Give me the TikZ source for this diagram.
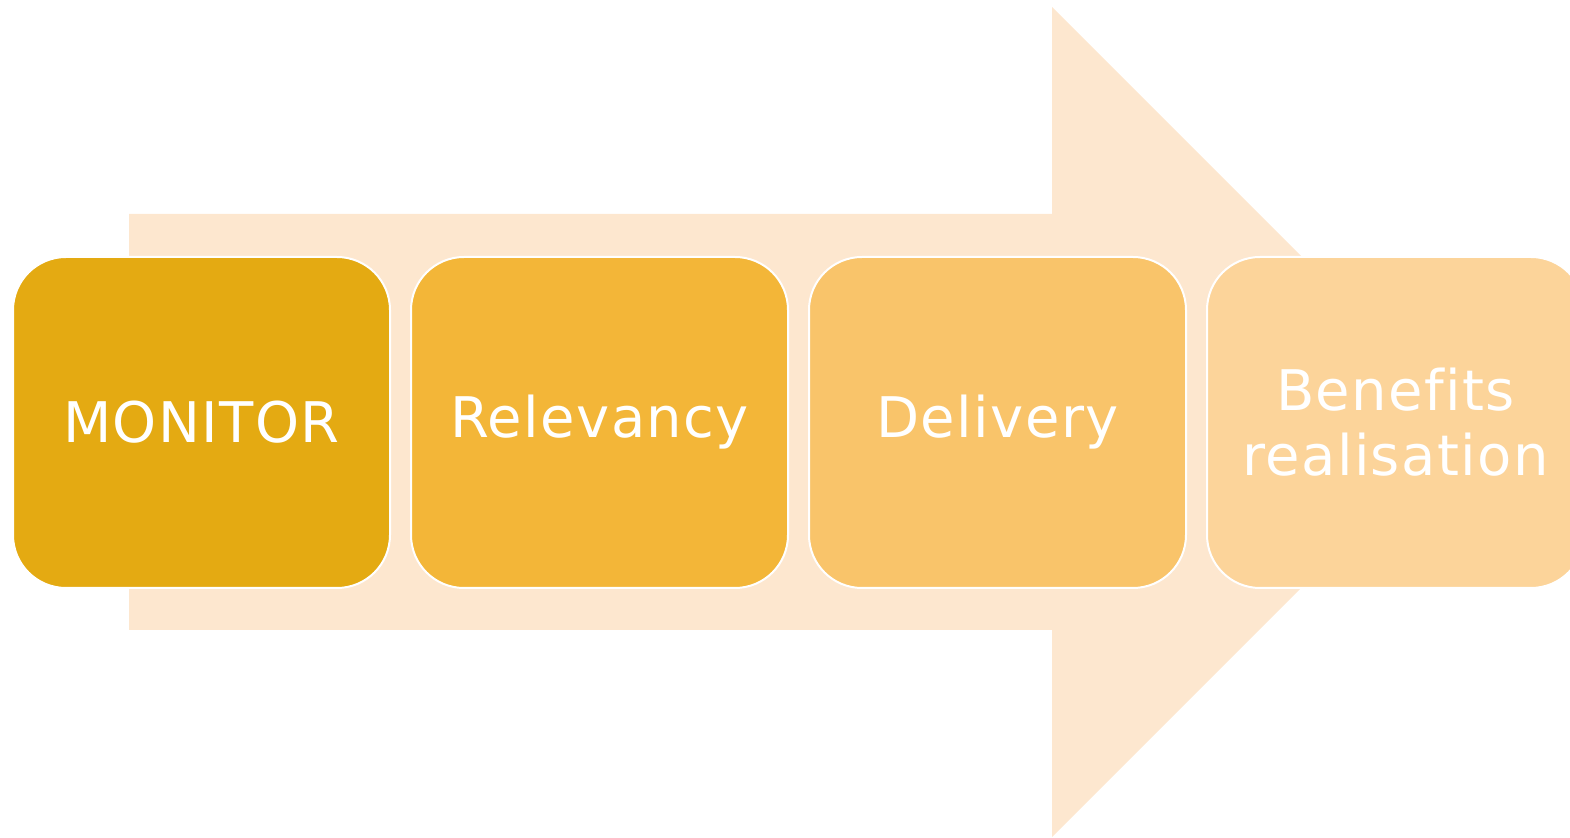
\documentclass[tikz,border=0pt]{standalone}
\usepackage{fontspec}
\setmainfont[Ligatures=NoCommon, LetterSpace=2.5]{DejaVu Sans}
\usetikzlibrary{positioning}
\definecolor{arrowfill}{HTML}{FDE7CF}
\definecolor{stepA}{HTML}{E4AA12}
\definecolor{stepB}{HTML}{F3B638}
\definecolor{stepC}{HTML}{F9C46A}
\definecolor{stepD}{HTML}{FCD49A}
\begin{document}
\begin{tikzpicture}
[x=0.5pt, y=-0.5pt,
 stagebox/.style={rectangle, rounded corners=26.5pt, minimum width=188.5pt, minimum height=165.5pt,
   inner sep=0pt, line width=1pt, draw=white, text=white, font=\fontsize{28}{32.5}\selectfont, align=center}]
\useasboundingbox (0,0) rectangle (1570,838);
% big arrow behind
\fill [arrowfill] (129,214) -- (1052,214) -- (1052,7) -- (1467,422) -- (1052,837) -- (1052,630) -- (129,630) -- cycle;
% stages
\node (monitor) [stagebox, fill=stepA, anchor=west] at (12,422.5) {MONITOR};
\node (relevancy) [stagebox, fill=stepB, right=9.5pt of monitor] {Relevancy};
\node (delivery) [stagebox, fill=stepC, right=9.5pt of relevancy] {Delivery};
\node (benefits) [stagebox, fill=stepD, right=9.5pt of delivery] {Benefits\\realisation};
\end{tikzpicture}
\end{document}
